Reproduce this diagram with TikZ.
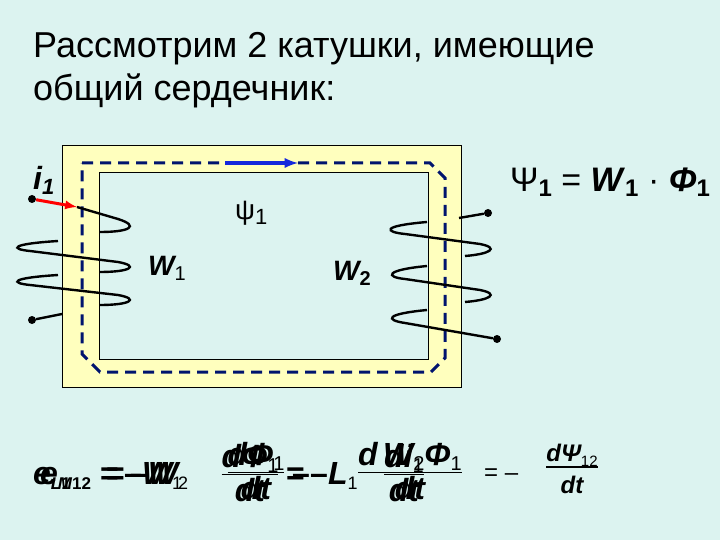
\documentclass[tikz,border=0pt]{standalone}
\usepackage{fontspec}
\setmainfont{Liberation Sans}
\newcommand{\bi}[1]{\mbox{\bfseries\itshape #1}}
\newcommand{\sub}[2]{\raisebox{-5pt}{\fontsize{#1}{#1}\selectfont #2}}
\newcommand{\myfr}[2]{\begin{tabular}[c]{@{}c@{}}#1\\[-4pt]\noalign{\hrule height 1.6pt}\rule{0pt}{26pt}#2\end{tabular}}
\begin{document}
\begin{tikzpicture}[x=1pt,y=-1pt,
  wire/.style={line width=2.4pt,black},
  dotn/.style={circle,fill=black,inner sep=0pt,minimum size=8pt},
  lbl/.style={inner sep=0pt,anchor=base west}]
\useasboundingbox (0,0) rectangle (720,540);
\fill[fill={rgb,255:red,220;green,243;blue,240}] (0,0) rectangle (720,540);
% core
\filldraw[fill={rgb,255:red,255;green,255;blue,190},draw=black,even odd rule,line width=0.8pt]
  (62,145) rectangle (461,387) (99,172) rectangle (428,359);
\draw[black,line width=0.8pt] (99,172) rectangle (428,359);
% flux path
\draw[dash pattern=on 11pt off 7pt,line width=3pt,color={rgb,255:red,0;green,20;blue,110}]
  (82,163) -- (430,163) -- (445,178) -- (445,358) -- (431,372) -- (100,372) -- (82,354) -- cycle;
\coordinate (fa) at (225,163); \coordinate (fb) at (298,163);
\draw[-latex,line width=3.5pt,color={rgb,255:red,20;green,40;blue,220}] (fa) -- (fb);
% left coil
\node[dotn] (l1) at (32,199) {};
\coordinate (l1a) at (77,207);
\draw[wire] (l1a) -- (118,219) .. controls (140,226) and (130,232) .. (100,232);
\draw[-latex,line width=3pt,red] (l1) -- (l1a);
\draw[wire] (58,241) .. controls (10,244) and (10,249) .. (30,251) -- (118,262) .. controls (140,266) and (130,272) .. (100,272);
\draw[wire] (58,275) .. controls (10,278) and (10,283) .. (30,285) -- (118,295) .. controls (140,299) and (130,305) .. (100,305);
\node[dotn] (l2) at (32,320) {};
\coordinate (l2a) at (62,314);
\draw[wire] (l2) -- (l2a);
% right coil
\node[dotn] (r1) at (488,213) {};
\coordinate (r1a) at (459,218);
\draw[wire] (r1) -- (r1a);
\draw[wire] (427,222) .. controls (380,226) and (385,232) .. (405,234) -- (480,244) .. controls (500,248) and (490,254) .. (465,256);
\draw[wire] (427,266) .. controls (385,270) and (385,277) .. (405,279) -- (480,290) .. controls (500,294) and (490,300) .. (465,302);
\node[dotn] (r2) at (497,339) {};
\coordinate (r2a) at (427,310);
\draw[wire] (r2a) .. controls (385,314) and (385,320) .. (405,323) -- (r2);
% texts
\node[lbl,font=\fontsize{36}{40}\selectfont] (t1) at (33,58) {Рассмотрим 2 катушки, имеющие};
\node[lbl,font=\fontsize{36}{40}\selectfont] (t2) at (33,101) {общий сердечник:};
\node[lbl,font=\fontsize{32}{36}\selectfont\bfseries\itshape] (i1) at (33,190) {i\sub{22}{1}};
\node[lbl,font=\fontsize{28}{32}\selectfont] (psi) at (235,220) {ψ\sub{22}{1}};
\node[lbl,font=\fontsize{28}{32}\selectfont\bfseries\itshape] (w1) at (148,275) {W\sub{20}{\upshape\mdseries 1}};
\node[lbl,font=\fontsize{28}{32}\selectfont\bfseries\itshape] (w2) at (333,280) {W\sub{20}{\upshape 2}};
\node[lbl,font=\fontsize{34}{40}\selectfont] (eq1) at (510,192) {Ψ\sub{24}{\bfseries 1} = \textbf{\textit{W}}\sub{24}{\bfseries 1} · \textbf{\textit{Φ}}\sub{24}{\bfseries 1}};
% bottom formula (two overlapping formulas)
\begin{scope}[every node/.style={inner sep=0pt,font=\fontsize{32}{36}\selectfont}]
\node[anchor=base west] (ea) at (33,484) {\bi{e}\sub{17}{\bfseries\itshape L\upshape 1}};
\node[anchor=base west] (eb) at (40,484) {\bi{e}\sub{17}{\bfseries\itshape M\upshape 12}};
\node[anchor=base west] (m1) at (100,484) {\textbf{=}\,\textbf{–}\bi{W}\sub{18}{1}};
\node[anchor=base west] (m1b) at (106,484) {\textbf{=}\,\textbf{–}\bi{W}\sub{18}{2}};
\node (f1) at (250,477) {\myfr{\bi{dΦ}\sub{20}{1}}{\bi{dt}}};
\node (f1b) at (256,475) {\myfr{\bi{dΦ}\sub{20}{1}}{\bi{dt}}};
\node[anchor=base west] (m2) at (286,484) {\textbf{=}\,\textbf{–}\bi{L}\sub{18}{1}};
\node[anchor=base west] (m2b) at (292,484) {\textbf{–}};
\node (f2) at (404,477) {\myfr{\bi{di}\sub{20}{1}}{\bi{dt}}};
\node (f2b) at (410,475) {\myfr{\bi{d\,W}\sub{20}{2}\bi{Φ}\sub{20}{1}}{\bi{dt}\hspace{10pt}}};
\node[anchor=base west,font=\fontsize{24}{28}\selectfont] (m3) at (484,480) {= –};
\node[font=\fontsize{24}{28}\selectfont] (f3) at (572,472) {\myfr{\bi{dΨ}\sub{15}{12}}{\bi{dt}}};
\end{scope}
\end{tikzpicture}
\end{document}
